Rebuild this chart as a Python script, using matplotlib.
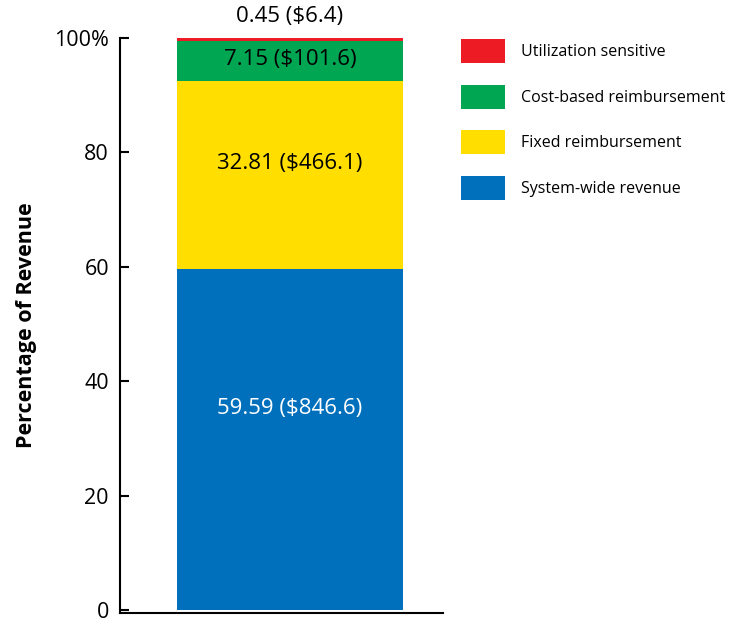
import matplotlib
matplotlib.use("Agg")
import matplotlib.pyplot as plt

categories = ["System-wide revenue", "Fixed reimbursement",
              "Cost-based reimbursement", "Utilization sensitive"]
percent = [59.59, 32.81, 7.15, 0.45]
dollars = [846.6, 466.1, 101.6, 6.4]
colors = ["#0070BD", "#FFDE00", "#00A651", "#ED1C24"]
label_y = [35.3, 78.0, 96.3, 103.8]
label_colors = ["white", "black", "black", "black"]
yticks = [0, 20, 40, 60, 80, 100]
yticklabels = ["0", "20", "40", "60", "80", "100%"]

plt.rcParams['font.family'] = ['Open Sans', 'DejaVu Sans']

fig = plt.figure(figsize=(7.31, 6.24), dpi=100)
ax = fig.add_axes([120/731, 1-613/624, (443-120)/731, (613-38)/624])

bars = []
bottom = 0
for cat, p, c in zip(categories, percent, colors):
    b = ax.bar(0, p, width=1.0, bottom=bottom, color=c, label=cat)
    bars.append(b)
    bottom += p

for p, d, y, tc in zip(percent, dollars, label_y, label_colors):
    ax.text(0, y, f"{p:.2f} (${d})", ha="center", va="center",
            fontsize=16, color=tc, clip_on=False)

ax.set_xlim(-0.752, 0.677)
ax.set_ylim(-0.5, 100)
ax.set_yticks(yticks)
ax.set_yticklabels(yticklabels, fontsize=15.5)
ax.set_xticks([])
ax.tick_params(axis="y", direction="in", length=6.5, width=1.5, pad=8)
for s in ["top", "right"]:
    ax.spines[s].set_visible(False)
ax.spines["left"].set_linewidth(1.5)
ax.spines["bottom"].set_linewidth(1.5)
ax.spines["left"].set_bounds(-0.5, 100)
ax.set_ylabel("Percentage of Revenue", fontsize=15.5, fontweight="bold", labelpad=12)

handles = [b[0] for b in bars][::-1]
labels = categories[::-1]
leg = fig.legend(handles, labels, loc="upper left",
                 bbox_to_anchor=(455/731, 1-33/624), frameon=False,
                 fontsize=11.5, handlelength=2.7, handleheight=1.9,
                 labelspacing=1.37, handletextpad=1.05, borderaxespad=0)

fig.savefig("out.png", dpi=100)
